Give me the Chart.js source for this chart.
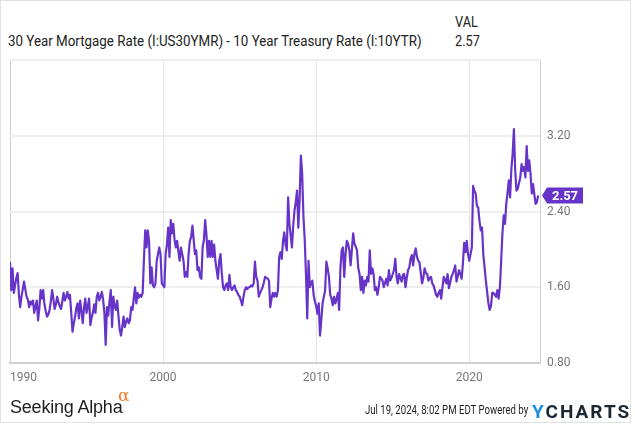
<!DOCTYPE html>
<html lang="en">
<head>
<meta charset="UTF-8">
<title>Mortgage - Treasury spread</title>
<script src="https://cdn.jsdelivr.net/npm/chart.js"></script>
<style>
    body {
        margin: 0;
        padding: 0;
        background: #fff;
        font-family: Roboto, Arial, sans-serif;
    }
    .frame {
        position: absolute;
        left: 0;
        top: 0;
        width: 631px;
        height: 423px;
        box-sizing: border-box;
        border: 1px solid #e2e2e2;
    }
    .txt {
        position: absolute;
        white-space: nowrap;
        color: #222;
        transform-origin: left center;
    }
    #title { left: 8px; top: 32px; font-size: 15px; transform: scaleX(0.89); }
    #valHead { left: 455px; top: 13px; font-size: 15px; transform: scaleX(0.85); }
    #valNum { left: 455px; top: 32px; font-size: 15px; transform: scaleX(0.85); }
    #seeking { left: 10px; top: 397px; font-family: "Liberation Sans", Arial, sans-serif; font-size: 18px; letter-spacing: -0.2px; color: #1e1e1e; }
    #alpha { left: 118px; top: 385px; font-family: "DejaVu Serif", serif; font-size: 17px; color: #f47a1f; }
    #stamp { left: 365px; top: 403px; font-size: 12px; transform: scaleX(0.8); color: #1e1e1e; }
    #ycharts { left: 532px; top: 400px; font-size: 19px; font-weight: bold; letter-spacing: 2px; color: #1b2733; }
    #ycharts span { color: #1a8fe3; }
    canvas { position: absolute; left: 0; top: 0; }
</style>
</head>
<body>
<div class="frame"></div>
<div class="txt" id="title">30 Year Mortgage Rate (I:US30YMR) - 10 Year Treasury Rate (I:10YTR)</div>
<div class="txt" id="valHead">VAL</div>
<div class="txt" id="valNum">2.57</div>
<canvas id="spreadChart" width="635" height="424"></canvas>
<div class="txt" id="seeking">Seeking Alpha</div>
<div class="txt" id="alpha">α</div>
<div class="txt" id="stamp">Jul 19, 2024, 8:02 PM EDT Powered by</div>
<div class="txt" id="ycharts"><span>Y</span>CHARTS</div>
<script>
    // monthly spread values, each array starts in January of its decade
    const values1990s = [
        1.87, 1.57, 1.80, 1.54, 1.62, 1.70, 1.75, 1.52, 1.39, 1.50, 1.58, 1.66,
        1.58, 1.50, 1.47, 1.39, 1.45, 1.42, 1.46, 1.33, 1.40, 1.46, 1.25, 1.38,
        1.57, 1.48, 1.57, 1.42, 1.35, 1.29, 1.31, 1.36, 1.45, 1.57, 1.48, 1.37,
        1.42, 1.50, 1.44, 1.40, 1.37, 1.45, 1.54, 1.46, 1.50, 1.55, 1.48, 1.52,
        1.33, 1.13, 1.22, 1.29, 1.38, 1.43, 1.27, 1.46, 1.35, 1.22, 1.38, 1.48,
        1.33, 1.40, 1.48, 1.20, 1.28, 1.33, 1.42, 1.33, 1.50, 1.54, 1.46, 1.50,
        1.55, 1.47, 1.33, 0.99, 1.39, 1.30, 1.45, 1.57, 1.18, 1.50, 1.40, 1.36,
        1.46, 1.30, 1.15, 1.09, 1.18, 1.29, 1.18, 1.24, 1.27, 1.22, 1.25, 1.39,
        1.36, 1.48, 1.60, 1.43, 1.54, 1.49, 1.52, 1.50, 1.54, 1.90, 2.20, 2.02,
        2.20, 2.09, 1.64, 1.81, 1.62, 1.60, 1.64, 1.88, 1.95, 2.02, 1.95, 1.64
    ];
    const values2000s = [
        1.62, 1.60, 1.95, 2.05, 2.23, 1.92, 2.31, 2.17, 2.27, 2.10, 2.02, 2.09,
        1.98, 1.88, 2.02, 1.95, 1.88, 1.71, 1.76, 1.71, 1.95, 2.09, 2.13, 2.25,
        2.10, 1.95, 1.99, 1.78, 1.81, 1.71, 1.69, 2.02, 2.10, 2.31, 2.15, 1.92,
        2.09, 1.92, 2.09, 1.92, 2.05, 1.88, 1.78, 1.69, 1.88, 1.95, 1.75, 1.60,
        1.57, 1.62, 1.64, 1.57, 1.73, 1.60, 1.57, 1.60, 1.62, 1.57, 1.55, 1.52,
        1.50, 1.46, 1.41, 1.50, 1.57, 1.60, 1.58, 1.60, 1.60, 1.62, 1.61, 1.64,
        1.87, 1.71, 1.67, 1.50, 1.54, 1.57, 1.60, 1.65, 1.71, 1.70, 1.69, 1.67,
        1.39, 1.48, 1.54, 1.50, 1.54, 1.50, 1.57, 1.92, 1.97, 1.90, 2.09, 2.18,
        2.05, 1.99, 2.55, 2.27, 2.15, 2.02, 2.25, 2.41, 2.50, 2.62, 2.23, 2.52,
        2.99, 2.80, 2.35, 2.11, 1.74, 1.27, 1.88, 1.60, 1.65, 1.67, 1.52, 1.45
    ];
    const values2010s = [
        1.40, 1.32, 1.43, 1.09, 1.25, 1.43, 1.50, 1.57, 1.87, 1.80, 1.71, 1.52,
        1.48, 1.41, 1.50, 1.43, 1.48, 1.54, 1.36, 1.80, 1.99, 2.02, 1.71, 1.95,
        2.09, 2.06, 1.99, 1.83, 2.00, 2.17, 2.06, 2.03, 1.99, 1.80, 1.74, 1.57,
        1.71, 1.54, 1.67, 1.62, 1.71, 1.66, 1.99, 1.74, 1.80, 1.74, 1.57, 1.60,
        1.52, 1.60, 1.71, 1.69, 1.67, 1.60, 1.65, 1.69, 1.62, 1.78, 1.67, 1.70,
        1.74, 1.78, 1.90, 1.71, 1.64, 1.74, 1.70, 1.66, 1.73, 1.74, 1.60, 1.70,
        1.78, 1.81, 1.90, 1.94, 1.83, 1.95, 2.01, 1.92, 1.88, 1.86, 1.75, 1.64,
        1.70, 1.80, 1.75, 1.74, 1.67, 1.70, 1.71, 1.64, 1.62, 1.57, 1.52, 1.50,
        1.54, 1.57, 1.48, 1.60, 1.71, 1.68, 1.64, 1.74, 1.59, 1.65, 1.71, 1.74,
        1.78, 1.83, 1.66, 1.72, 1.78, 1.74, 1.69, 1.85, 2.07, 1.97, 2.09, 1.95
    ];
    const values2020s = [
        1.88, 1.95, 2.02, 2.67, 2.62, 2.59, 2.46, 2.44, 2.30, 2.20, 2.23, 1.95,
        1.81, 1.67, 1.55, 1.43, 1.36, 1.40, 1.54, 1.54, 1.52, 1.50, 1.57, 1.48,
        1.60, 1.88, 2.17, 2.36, 2.27, 2.48, 2.60, 2.73, 2.55, 2.85, 3.01, 3.27,
        2.83, 2.62, 2.64, 2.70, 2.76, 2.90, 2.83, 2.87, 2.76, 3.09, 2.83, 2.94,
        2.80, 2.59, 2.69, 2.58, 2.48, 2.50, 2.57
    ];
    const xTickYears = [1990, 2000, 2010, 2020];
    const yTickValues = [0.8, 1.6, 2.4, 3.2, 4.0];
    const xEnd = 2024.62;
    const lineColor = '#6634c9';

    var points = [];
    [[1990, values1990s], [2000, values2000s], [2010, values2010s], [2020, values2020s]].forEach(function (d) {
        d[1].forEach(function (v, i) {
            points.push({ x: d[0] + i / 12, y: v });
        });
    });
    var lastValue = values2020s[values2020s.length - 1];

    // purple flag with the latest value on the right axis
    const lastValueFlag = {
        id: 'lastValueFlag',
        afterDraw(chart) {
            const ctx = chart.ctx;
            const y = chart.scales.y.getPixelForValue(lastValue);
            const x0 = chart.chartArea.right + 2;
            ctx.save();
            ctx.fillStyle = lineColor;
            ctx.beginPath();
            ctx.moveTo(x0, y);
            ctx.lineTo(x0 + 5, y - 8);
            ctx.lineTo(x0 + 41, y - 8);
            ctx.lineTo(x0 + 41, y + 8);
            ctx.lineTo(x0 + 5, y + 8);
            ctx.closePath();
            ctx.fill();
            ctx.fillStyle = '#fff';
            ctx.font = 'bold 13px Roboto';
            ctx.textAlign = 'center';
            ctx.textBaseline = 'middle';
            ctx.fillText(lastValue.toFixed(2), x0 + 23, y + 1);
            ctx.restore();
        }
    };

    const ctx = document.getElementById('spreadChart').getContext('2d');
    const spreadChart = new Chart(ctx, {
        type: 'line',
        data: {
            datasets: [{
                data: points,
                borderColor: lineColor,
                borderWidth: 2.2,
                pointRadius: 0,
                tension: 0,
                borderJoinStyle: 'round'
            }]
        },
        options: {
            responsive: false,
            animation: false,
            layout: { padding: { top: 60, left: 10, right: 0, bottom: 0 } },
            plugins: {
                legend: { display: false },
                tooltip: { enabled: false }
            },
            scales: {
                x: {
                    type: 'linear',
                    min: 1990,
                    max: xEnd,
                    afterBuildTicks: function (s) {
                        s.ticks = xTickYears.concat([xEnd]).map(function (v) { return { value: v }; });
                    },
                    afterFit: function (s) { s.height = 61; },
                    ticks: {
                        align: 'inner',
                        autoSkip: false,
                        maxRotation: 0,
                        padding: 8,
                        color: '#777',
                        font: { family: 'Roboto', size: 12 },
                        callback: function (v) { return xTickYears.includes(v) ? String(v) : ''; }
                    },
                    grid: {
                        drawTicks: false,
                        color: function (c) { return c.index === 0 ? '#cccccc' : '#e4e4e4'; }
                    },
                    border: { color: '#d0d0d0', width: 2 }
                },
                y: {
                    position: 'right',
                    min: 0.8,
                    max: 4.0,
                    afterBuildTicks: function (s) {
                        s.ticks = yTickValues.map(function (v) { return { value: v }; });
                    },
                    afterFit: function (s) { s.width = 95; },
                    ticks: {
                        padding: 7,
                        color: '#777',
                        font: { family: 'Roboto', size: 12 },
                        callback: function (v) { return v >= 3.99 ? '' : v.toFixed(2); }
                    },
                    grid: {
                        drawTicks: false,
                        color: '#eeeeee',
                        lineWidth: 2
                    },
                    border: { color: '#d0d0d0', width: 1 }
                }
            }
        },
        plugins: [lastValueFlag]
    });
</script>
</body>
</html>
